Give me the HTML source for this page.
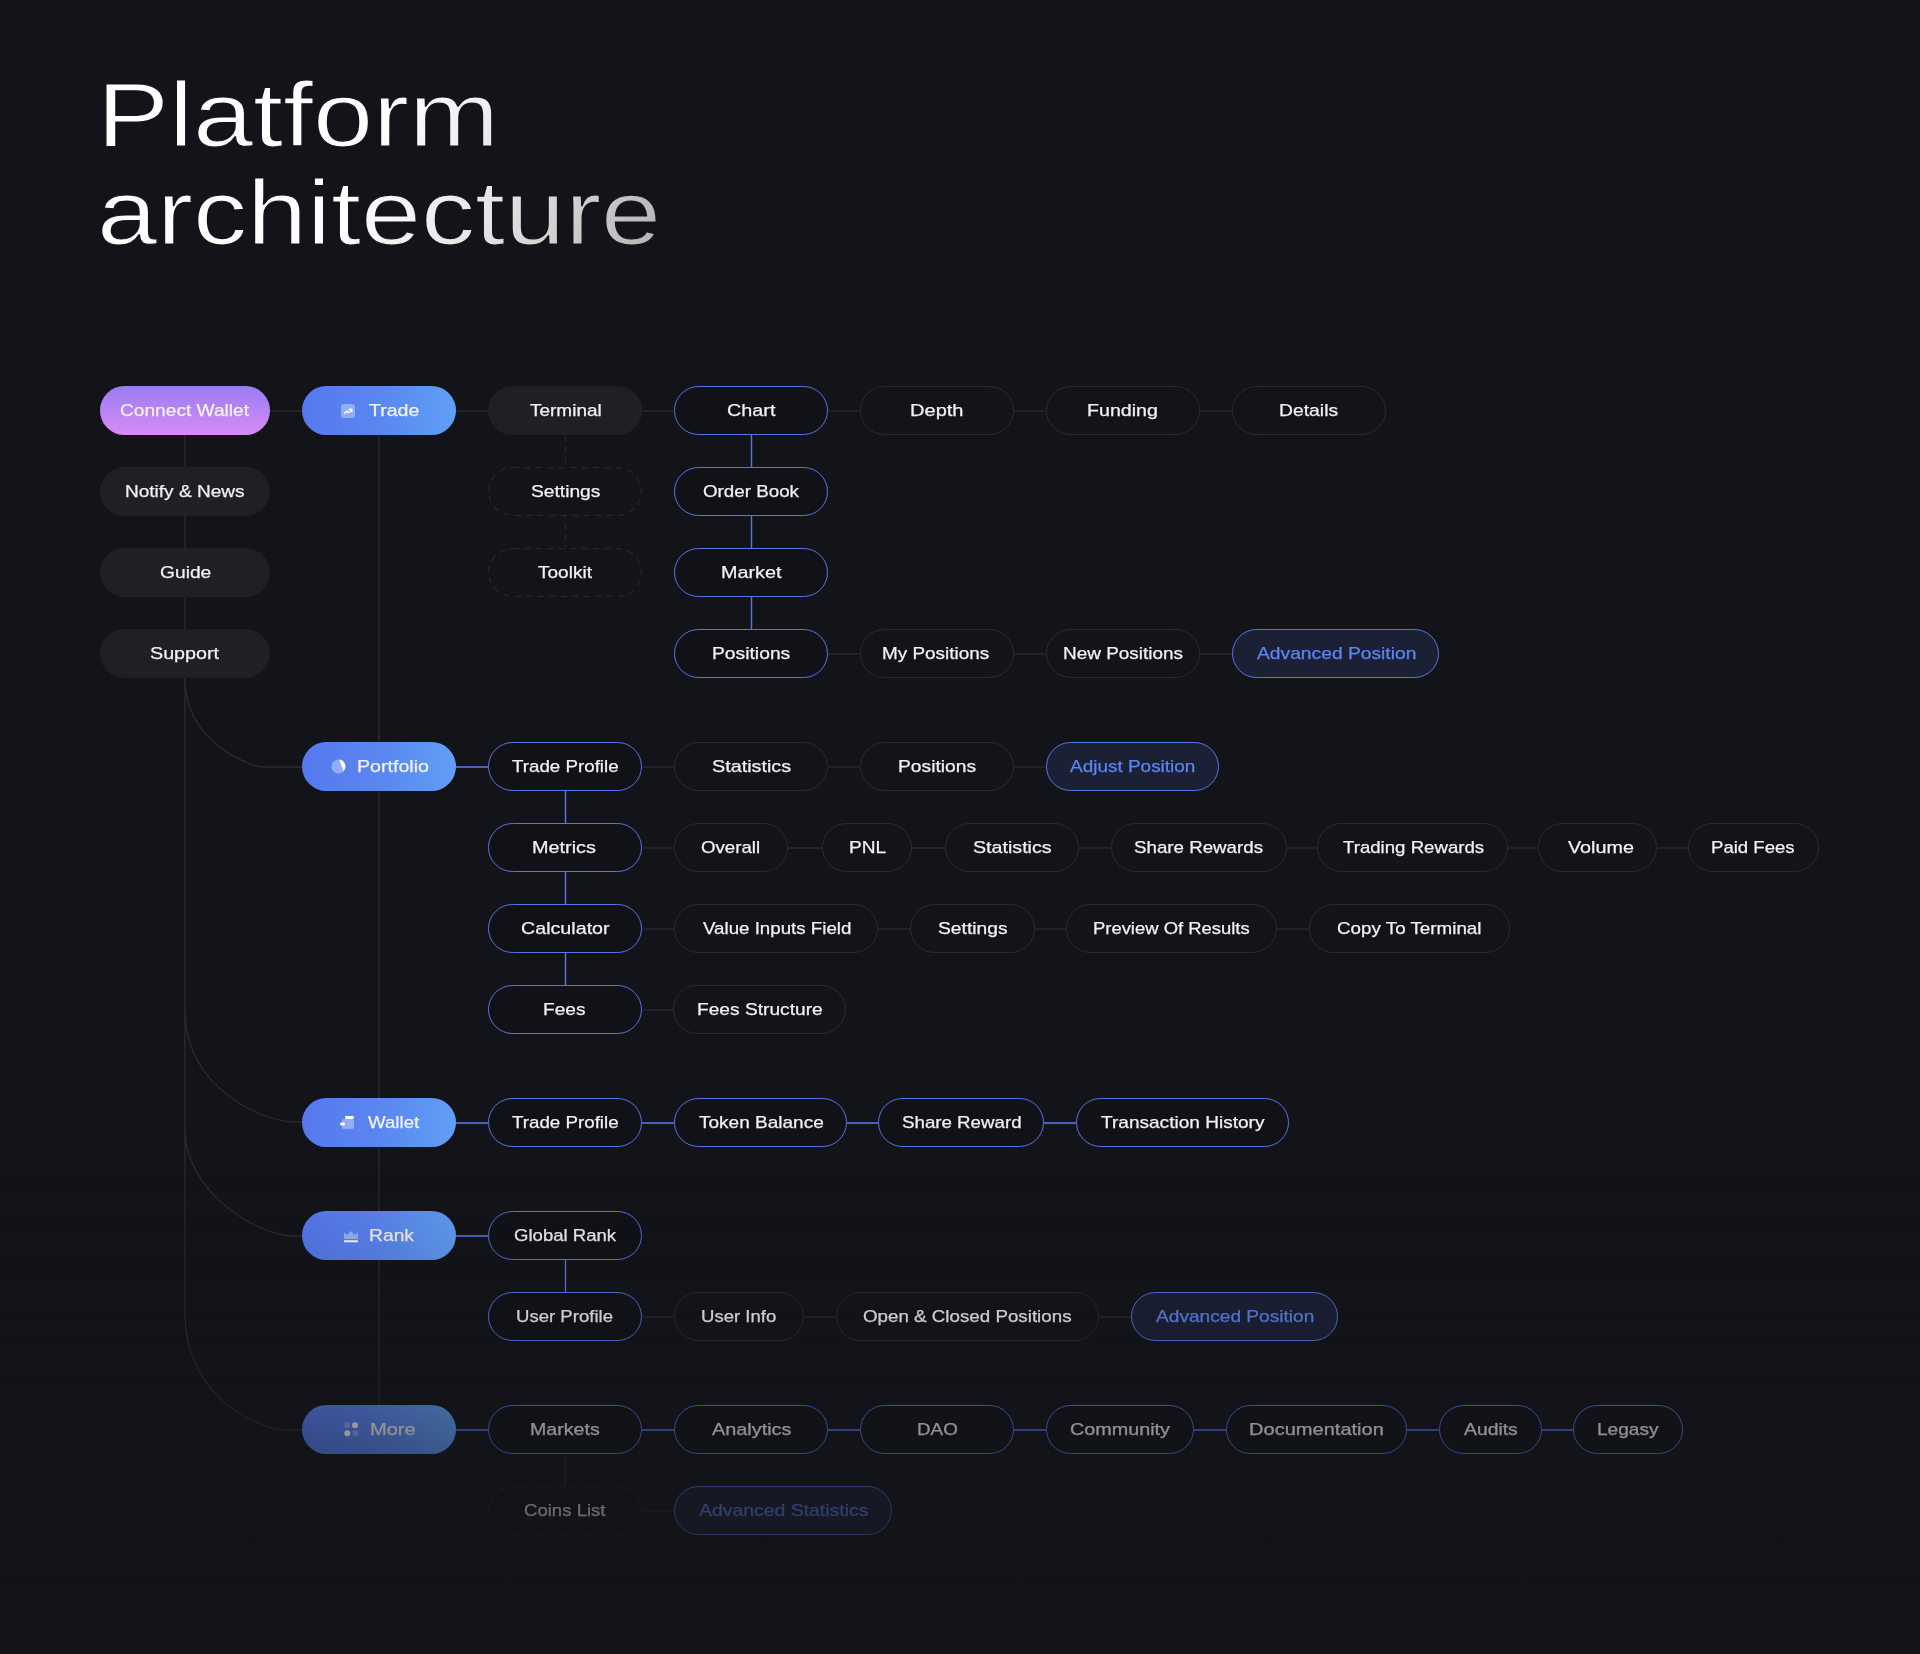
<!DOCTYPE html>
<html><head><meta charset="utf-8"><title>Platform architecture</title><style>
html,body{margin:0;padding:0}
body{width:1920px;height:1654px;background:#131419;position:relative;overflow:hidden;font-family:"Liberation Sans",sans-serif}
svg.lines{position:absolute;left:0;top:0}
.p{position:absolute;height:49px;box-sizing:border-box;border-radius:25px}
.ds{position:absolute}
.purple{background:linear-gradient(180deg,#9a7cf2 0%,#b884f3 50%,#d98bf6 100%)}
.bgrad{background:linear-gradient(90deg,#5679ee 0%,#5a86f0 50%,#619ff6 100%)}
.fill{background:#1f2026}
.gray{border:1.4px solid #2b2c32;background:#131419}
.blue{border:1.6px solid #5775e6;background:#111217}
.hl{border:1.6px solid #5677e6;background:#1b2035}
.tx{position:absolute;white-space:nowrap;font-size:17px;line-height:49px;height:49px;color:#f2f2f4;transform-origin:0 0;will-change:transform;-webkit-text-stroke:0.25px currentColor}
.hlt{color:#5c85f2}
.ic{position:absolute;line-height:0}
.fade{position:absolute;left:0;top:0;width:1920px;height:1654px;background:linear-gradient(180deg,rgba(19,20,25,0) 1170px,rgba(19,20,25,0.08) 1235px,rgba(19,20,25,0.17) 1316px,rgba(19,20,25,0.44) 1429px,rgba(19,20,25,0.62) 1510px,rgba(19,20,25,0.8) 1654px)}
</style></head>
<body>
<svg class="title" width="760" height="280" viewBox="0 0 760 280" style="position:absolute;left:0;top:0"><defs><linearGradient id="tg" gradientUnits="userSpaceOnUse" x1="0" y1="70" x2="465" y2="250"><stop offset="0" stop-color="#ffffff"/><stop offset="0.5" stop-color="#fdfdfd"/><stop offset="0.72" stop-color="#e4e4e4"/><stop offset="1" stop-color="#b4b4b4"/></linearGradient></defs><g transform="translate(97 0) scale(1.2 1)"><text x="0" y="146" font-family="Liberation Sans" font-size="90" fill="url(#tg)" stroke="#131419" stroke-width="1.2">Platform</text><text x="0" y="244" font-family="Liberation Sans" font-size="90" fill="url(#tg)" stroke="#131419" stroke-width="1.2">architecture</text></g></svg>
<svg class="lines" width="1920" height="1654" viewBox="0 0 1920 1654">
<path d="M270 411H302" stroke="#2a2b31" stroke-width="1.3" fill="none"/>
<path d="M456 411H488" stroke="#2a2b31" stroke-width="1.3" fill="none"/>
<path d="M642 411H674" stroke="#2a2b31" stroke-width="1.3" fill="none"/>
<path d="M828 411H860" stroke="#2a2b31" stroke-width="1.3" fill="none"/>
<path d="M1014 411H1046" stroke="#2a2b31" stroke-width="1.3" fill="none"/>
<path d="M1200 411H1232" stroke="#2a2b31" stroke-width="1.3" fill="none"/>
<path d="M828 654H860" stroke="#2a2b31" stroke-width="1.3" fill="none"/>
<path d="M1014 654H1046" stroke="#2a2b31" stroke-width="1.3" fill="none"/>
<path d="M1200 654H1232" stroke="#2a2b31" stroke-width="1.3" fill="none"/>
<path d="M751.5 435V629" stroke="#5775e6" stroke-width="1.4" fill="none"/>
<path d="M565.5 435V548" stroke="#232429" stroke-width="1.3" fill="none" stroke-dasharray="6 5"/>
<path d="M185 435V1316" stroke="#2a2b31" stroke-width="1.3" fill="none"/>
<path d="M185 679C185 742 250 767 264 767H302" stroke="#2a2b31" stroke-width="1.3" fill="none"/>
<path d="M185 1010C185 1090 265 1122 295 1122H302" stroke="#2a2b31" stroke-width="1.3" fill="none"/>
<path d="M185 1130C185 1190 255 1236 295 1236H302" stroke="#2a2b31" stroke-width="1.3" fill="none"/>
<path d="M185 1315C185 1390 250 1430 290 1430H302" stroke="#2a2b31" stroke-width="1.3" fill="none"/>
<path d="M379 435V1405" stroke="#2a2b31" stroke-width="1.3" fill="none"/>
<path d="M456 767H488" stroke="#5775e6" stroke-width="1.6" fill="none"/>
<path d="M642 767H674" stroke="#2a2b31" stroke-width="1.3" fill="none"/>
<path d="M828 767H860" stroke="#2a2b31" stroke-width="1.3" fill="none"/>
<path d="M1014 767H1046" stroke="#2a2b31" stroke-width="1.3" fill="none"/>
<path d="M565.5 791V985" stroke="#5775e6" stroke-width="1.4" fill="none"/>
<path d="M642 848H674" stroke="#2a2b31" stroke-width="1.3" fill="none"/>
<path d="M788 848H822" stroke="#2a2b31" stroke-width="1.3" fill="none"/>
<path d="M912 848H945" stroke="#2a2b31" stroke-width="1.3" fill="none"/>
<path d="M1079 848H1111" stroke="#2a2b31" stroke-width="1.3" fill="none"/>
<path d="M1287 848H1317" stroke="#2a2b31" stroke-width="1.3" fill="none"/>
<path d="M1508 848H1538" stroke="#2a2b31" stroke-width="1.3" fill="none"/>
<path d="M1657 848H1688" stroke="#2a2b31" stroke-width="1.3" fill="none"/>
<path d="M642 929H674" stroke="#2a2b31" stroke-width="1.3" fill="none"/>
<path d="M878 929H910" stroke="#2a2b31" stroke-width="1.3" fill="none"/>
<path d="M1035 929H1066" stroke="#2a2b31" stroke-width="1.3" fill="none"/>
<path d="M1277 929H1309" stroke="#2a2b31" stroke-width="1.3" fill="none"/>
<path d="M642 1010H673" stroke="#2a2b31" stroke-width="1.3" fill="none"/>
<path d="M456 1123H488" stroke="#5775e6" stroke-width="1.6" fill="none"/>
<path d="M642 1123H674" stroke="#5775e6" stroke-width="1.6" fill="none"/>
<path d="M847 1123H878" stroke="#5775e6" stroke-width="1.6" fill="none"/>
<path d="M1044 1123H1076" stroke="#5775e6" stroke-width="1.6" fill="none"/>
<path d="M456 1236H488" stroke="#5775e6" stroke-width="1.6" fill="none"/>
<path d="M565.5 1260V1292" stroke="#5775e6" stroke-width="1.4" fill="none"/>
<path d="M642 1317H674" stroke="#2a2b31" stroke-width="1.3" fill="none"/>
<path d="M804 1317H836" stroke="#2a2b31" stroke-width="1.3" fill="none"/>
<path d="M1099 1317H1131" stroke="#2a2b31" stroke-width="1.3" fill="none"/>
<path d="M456 1430H488" stroke="#5775e6" stroke-width="1.6" fill="none"/>
<path d="M642 1430H674" stroke="#5775e6" stroke-width="1.6" fill="none"/>
<path d="M828 1430H860" stroke="#5775e6" stroke-width="1.6" fill="none"/>
<path d="M1014 1430H1046" stroke="#5775e6" stroke-width="1.6" fill="none"/>
<path d="M1194 1430H1226" stroke="#5775e6" stroke-width="1.6" fill="none"/>
<path d="M1407 1430H1439" stroke="#5775e6" stroke-width="1.6" fill="none"/>
<path d="M1542 1430H1573" stroke="#5775e6" stroke-width="1.6" fill="none"/>
<path d="M565 1454V1486" stroke="#2a2b31" stroke-width="1.3" fill="none"/>
<path d="M642 1511H674" stroke="#2a2b31" stroke-width="1.3" fill="none"/>
</svg>
<div class="p purple" style="left:100px;top:386px;width:170px"></div>
<div class="p fill" style="left:100px;top:467px;width:170px"></div>
<div class="p fill" style="left:100px;top:548px;width:170px"></div>
<div class="p fill" style="left:100px;top:629px;width:170px"></div>
<div class="p bgrad" style="left:302px;top:386px;width:154px"></div>
<div class="p bgrad" style="left:302px;top:742px;width:154px"></div>
<div class="p bgrad" style="left:302px;top:1098px;width:154px"></div>
<div class="p bgrad" style="left:302px;top:1211px;width:154px"></div>
<div class="p bgrad" style="left:302px;top:1405px;width:154px"></div>
<div class="p fill" style="left:488px;top:386px;width:154px"></div>
<svg class="ds" style="left:488px;top:467px" width="154" height="49"><rect x="0.65" y="0.65" width="152.7" height="47.7" rx="23.85" fill="#131419" stroke="#25262c" stroke-width="1.4" stroke-dasharray="6.5 5"/></svg>
<svg class="ds" style="left:488px;top:548px" width="154" height="49"><rect x="0.65" y="0.65" width="152.7" height="47.7" rx="23.85" fill="#131419" stroke="#25262c" stroke-width="1.4" stroke-dasharray="6.5 5"/></svg>
<div class="p blue" style="left:488px;top:742px;width:154px"></div>
<div class="p blue" style="left:488px;top:823px;width:154px"></div>
<div class="p blue" style="left:488px;top:904px;width:154px"></div>
<div class="p blue" style="left:488px;top:985px;width:154px"></div>
<div class="p blue" style="left:488px;top:1098px;width:154px"></div>
<div class="p blue" style="left:488px;top:1211px;width:154px"></div>
<div class="p blue" style="left:488px;top:1292px;width:154px"></div>
<div class="p blue" style="left:488px;top:1405px;width:154px"></div>
<svg class="ds" style="left:488px;top:1486px" width="154" height="49"><rect x="0.65" y="0.65" width="152.7" height="47.7" rx="23.85" fill="#131419" stroke="#25262c" stroke-width="1.4" stroke-dasharray="6.5 5"/></svg>
<div class="p blue" style="left:674px;top:386px;width:154px"></div>
<div class="p blue" style="left:674px;top:467px;width:154px"></div>
<div class="p blue" style="left:674px;top:548px;width:154px"></div>
<div class="p blue" style="left:674px;top:629px;width:154px"></div>
<div class="p gray" style="left:860px;top:386px;width:154px"></div>
<div class="p gray" style="left:1046px;top:386px;width:154px"></div>
<div class="p gray" style="left:1232px;top:386px;width:154px"></div>
<div class="p gray" style="left:860px;top:629px;width:154px"></div>
<div class="p gray" style="left:1046px;top:629px;width:154px"></div>
<div class="p hl" style="left:1232px;top:629px;width:207px"></div>
<div class="p gray" style="left:674px;top:742px;width:154px"></div>
<div class="p gray" style="left:860px;top:742px;width:154px"></div>
<div class="p hl" style="left:1046px;top:742px;width:173px"></div>
<div class="p gray" style="left:674px;top:823px;width:114px"></div>
<div class="p gray" style="left:822px;top:823px;width:90px"></div>
<div class="p gray" style="left:945px;top:823px;width:134px"></div>
<div class="p gray" style="left:1111px;top:823px;width:176px"></div>
<div class="p gray" style="left:1317px;top:823px;width:191px"></div>
<div class="p gray" style="left:1538px;top:823px;width:119px"></div>
<div class="p gray" style="left:1688px;top:823px;width:131px"></div>
<div class="p gray" style="left:674px;top:904px;width:204px"></div>
<div class="p gray" style="left:910px;top:904px;width:125px"></div>
<div class="p gray" style="left:1066px;top:904px;width:211px"></div>
<div class="p gray" style="left:1309px;top:904px;width:201px"></div>
<div class="p gray" style="left:673px;top:985px;width:173px"></div>
<div class="p blue" style="left:674px;top:1098px;width:173px"></div>
<div class="p blue" style="left:878px;top:1098px;width:166px"></div>
<div class="p blue" style="left:1076px;top:1098px;width:213px"></div>
<div class="p gray" style="left:674px;top:1292px;width:130px"></div>
<div class="p gray" style="left:836px;top:1292px;width:263px"></div>
<div class="p hl" style="left:1131px;top:1292px;width:207px"></div>
<div class="p blue" style="left:674px;top:1405px;width:154px"></div>
<div class="p blue" style="left:860px;top:1405px;width:154px"></div>
<div class="p blue" style="left:1046px;top:1405px;width:148px"></div>
<div class="p blue" style="left:1226px;top:1405px;width:181px"></div>
<div class="p blue" style="left:1439px;top:1405px;width:103px"></div>
<div class="p blue" style="left:1573px;top:1405px;width:110px"></div>
<div class="p hl" style="left:674px;top:1486px;width:218px"></div>
<div class="tx" style="left:120.10px;top:386px;transform:scaleX(1.1258)">Connect Wallet</div>
<div class="tx" style="left:124.93px;top:467px;transform:scaleX(1.1193)">Notify &amp; News</div>
<div class="tx" style="left:159.90px;top:548px;transform:scaleX(1.1301)">Guide</div>
<div class="tx" style="left:150.37px;top:629px;transform:scaleX(1.1587)">Support</div>
<div class="tx" style="left:368.54px;top:386px;transform:scaleX(1.1502)">Trade</div>
<div class="ic" style="left:341px;top:404px"><svg width="14" height="14" viewBox="0 0 14 14"><rect x="0" y="0" width="14" height="14" rx="3" fill="rgba(255,255,255,0.35)"/><path d="M3.3 9.6L5.9 7.1L7.7 8.6L10.6 5.4M8.4 5.2H10.8V7.6" stroke="#fff" stroke-width="1.4" fill="none" stroke-linecap="round" stroke-linejoin="round"/></svg></div>
<div class="tx" style="left:356.89px;top:742px;transform:scaleX(1.1526)">Portfolio</div>
<div class="ic" style="left:331px;top:759px"><svg width="15" height="15" viewBox="0 0 15 15"><circle cx="7.5" cy="7.5" r="7" fill="rgba(255,255,255,0.35)"/><path d="M8.2 0.6A7 7 0 0 1 12.5 12.3Z" fill="#fff"/></svg></div>
<div class="tx" style="left:367.89px;top:1098px;transform:scaleX(1.0991)">Wallet</div>
<div class="ic" style="left:340px;top:1115px"><svg width="14" height="14" viewBox="0 0 14 14"><rect x="2" y="4" width="12" height="10" rx="2" fill="rgba(255,255,255,0.35)"/><rect x="5" y="1" width="9" height="3" rx="1.2" fill="#fff"/><rect x="0" y="7.5" width="5" height="3" rx="1.4" fill="#fff"/></svg></div>
<div class="tx" style="left:369.41px;top:1211px;transform:scaleX(1.1332)">Rank</div>
<div class="ic" style="left:344px;top:1230px"><svg width="14" height="13" viewBox="0 0 14 13"><path d="M0 2.5L3.5 5L7 1L10.5 5L14 2.5V9H0Z" fill="rgba(255,255,255,0.4)"/><rect x="0" y="10.3" width="14" height="2" rx="0.6" fill="#fff"/></svg></div>
<div class="tx" style="left:370.35px;top:1405px;transform:scaleX(1.1803)">More</div>
<div class="ic" style="left:344px;top:1422px"><svg width="15" height="15" viewBox="0 0 15 15"><rect x="0.5" y="0.5" width="5.5" height="5.5" rx="1" fill="rgba(255,255,255,0.3)"/><circle cx="11" cy="3.3" r="3" fill="#fff"/><circle cx="3.3" cy="11.3" r="3" fill="#fff"/><rect x="8.5" y="8.5" width="5.5" height="5.5" rx="1" fill="rgba(255,255,255,0.3)"/></svg></div>
<div class="tx" style="left:529.55px;top:386px;transform:scaleX(1.1164)">Terminal</div>
<div class="tx" style="left:530.70px;top:467px;transform:scaleX(1.1300)">Settings</div>
<div class="tx" style="left:538.25px;top:548px;transform:scaleX(1.1195)">Toolkit</div>
<div class="tx" style="left:512.26px;top:742px;transform:scaleX(1.1026)">Trade Profile</div>
<div class="tx" style="left:532.37px;top:823px;transform:scaleX(1.1667)">Metrics</div>
<div class="tx" style="left:520.67px;top:904px;transform:scaleX(1.1576)">Calculator</div>
<div class="tx" style="left:543.43px;top:985px;transform:scaleX(1.1229)">Fees</div>
<div class="tx" style="left:512.26px;top:1098px;transform:scaleX(1.1026)">Trade Profile</div>
<div class="tx" style="left:513.83px;top:1211px;transform:scaleX(1.0916)">Global Rank</div>
<div class="tx" style="left:515.98px;top:1292px;transform:scaleX(1.0922)">User Profile</div>
<div class="tx" style="left:529.58px;top:1405px;transform:scaleX(1.1538)">Markets</div>
<div class="tx" style="left:523.63px;top:1486px;transform:scaleX(1.0923)">Coins List</div>
<div class="tx" style="left:726.67px;top:386px;transform:scaleX(1.1646)">Chart</div>
<div class="tx" style="left:702.82px;top:467px;transform:scaleX(1.1045)">Order Book</div>
<div class="tx" style="left:720.67px;top:548px;transform:scaleX(1.1647)">Market</div>
<div class="tx" style="left:711.81px;top:629px;transform:scaleX(1.1343)">Positions</div>
<div class="tx" style="left:910.25px;top:386px;transform:scaleX(1.1795)">Depth</div>
<div class="tx" style="left:1087.38px;top:386px;transform:scaleX(1.1545)">Funding</div>
<div class="tx" style="left:1279.01px;top:386px;transform:scaleX(1.1380)">Details</div>
<div class="tx" style="left:882.44px;top:629px;transform:scaleX(1.1123)">My Positions</div>
<div class="tx" style="left:1063.44px;top:629px;transform:scaleX(1.1145)">New Positions</div>
<div class="tx hlt" style="left:1256.89px;top:629px;transform:scaleX(1.1318)">Advanced Position</div>
<div class="tx" style="left:711.57px;top:742px;transform:scaleX(1.1637)">Statistics</div>
<div class="tx" style="left:897.81px;top:742px;transform:scaleX(1.1328)">Positions</div>
<div class="tx hlt" style="left:1070.49px;top:742px;transform:scaleX(1.1150)">Adjust Position</div>
<div class="tx" style="left:701.12px;top:823px;transform:scaleX(1.0983)">Overall</div>
<div class="tx" style="left:849.42px;top:823px;transform:scaleX(1.1254)">PNL</div>
<div class="tx" style="left:973.08px;top:823px;transform:scaleX(1.1562)">Statistics</div>
<div class="tx" style="left:1134.12px;top:823px;transform:scaleX(1.1010)">Share Rewards</div>
<div class="tx" style="left:1342.56px;top:823px;transform:scaleX(1.0955)">Trading Rewards</div>
<div class="tx" style="left:1567.88px;top:823px;transform:scaleX(1.1628)">Volume</div>
<div class="tx" style="left:1711.47px;top:823px;transform:scaleX(1.0925)">Paid Fees</div>
<div class="tx" style="left:702.89px;top:904px;transform:scaleX(1.1003)">Value Inputs Field</div>
<div class="tx" style="left:938.09px;top:904px;transform:scaleX(1.1333)">Settings</div>
<div class="tx" style="left:1092.98px;top:904px;transform:scaleX(1.0835)">Preview Of Results</div>
<div class="tx" style="left:1336.62px;top:904px;transform:scaleX(1.1051)">Copy To Terminal</div>
<div class="tx" style="left:696.92px;top:985px;transform:scaleX(1.1272)">Fees Structure</div>
<div class="tx" style="left:698.55px;top:1098px;transform:scaleX(1.1187)">Token Balance</div>
<div class="tx" style="left:901.62px;top:1098px;transform:scaleX(1.1002)">Share Reward</div>
<div class="tx" style="left:1100.55px;top:1098px;transform:scaleX(1.1210)">Transaction History</div>
<div class="tx" style="left:701.28px;top:1292px;transform:scaleX(1.0910)">User Info</div>
<div class="tx" style="left:863.12px;top:1292px;transform:scaleX(1.1034)">Open &amp; Closed Positions</div>
<div class="tx hlt" style="left:1156.29px;top:1292px;transform:scaleX(1.1246)">Advanced Position</div>
<div class="tx" style="left:712.28px;top:1405px;transform:scaleX(1.1679)">Analytics</div>
<div class="tx" style="left:917.05px;top:1405px;transform:scaleX(1.1069)">DAO</div>
<div class="tx" style="left:1069.67px;top:1405px;transform:scaleX(1.1622)">Community</div>
<div class="tx" style="left:1249.35px;top:1405px;transform:scaleX(1.1796)">Documentation</div>
<div class="tx" style="left:1464.39px;top:1405px;transform:scaleX(1.1373)">Audits</div>
<div class="tx" style="left:1596.93px;top:1405px;transform:scaleX(1.1217)">Legasy</div>
<div class="tx hlt" style="left:698.89px;top:1486px;transform:scaleX(1.1415)">Advanced Statistics</div>
<div class="fade"></div>
</body></html>
